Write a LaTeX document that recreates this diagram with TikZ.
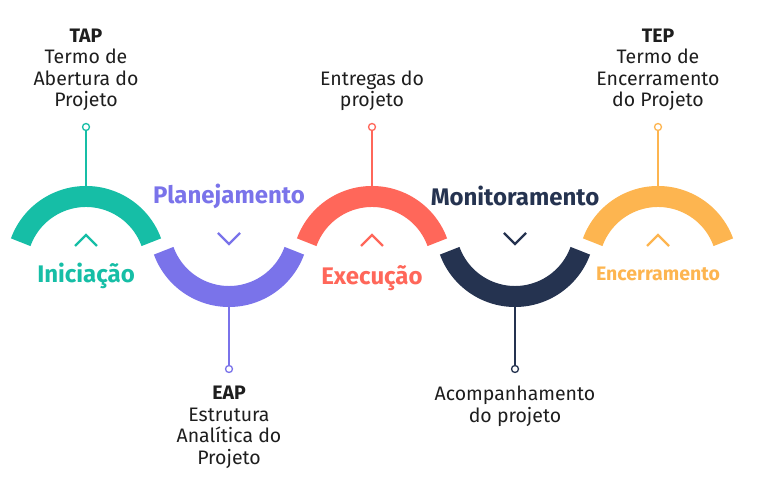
\documentclass[tikz,border=0pt]{standalone}
\usepackage{fontspec}
\setmainfont{Fira Sans}
\definecolor{cini}{HTML}{16BEA6}
\definecolor{cpla}{HTML}{7A73EA}
\definecolor{cexe}{HTML}{FF675A}
\definecolor{cmon}{HTML}{253350}
\definecolor{cenc}{HTML}{FDB550}
\definecolor{ink}{HTML}{1E1E1E}
\begin{document}
\begin{tikzpicture}[x=1pt, y=1pt,
  band/.style={line width=21pt},
  chev/.style={line width=2.4pt},
  stage/.style={font=\fontsize{24}{26}\selectfont\bfseries, inner sep=0pt},
  note/.style={align=center, font=\fontsize{19.5}{21.5}\selectfont, text=ink, inner sep=0pt},
  pin/.style={circle, draw, fill=white, line width=1.3pt, inner sep=0pt, minimum size=7pt},
  stem/.style={line width=1.6pt}]
\useasboundingbox (0,0) rectangle (779,494);
% arc centres
\coordinate (ini) at (86,228);
\coordinate (pla) at (229,267);
\coordinate (exe) at (372,228);
\coordinate (mon) at (515,267);
\coordinate (enc) at (658,228);
% bands
\draw[band, cini] ([shift={(20:69.5)}]ini) arc (20:160:69.5);
\draw[band, cpla] ([shift={(200:69.5)}]pla) arc (200:340:69.5);
\draw[band, cexe] ([shift={(20:69.5)}]exe) arc (20:160:69.5);
\draw[band, cmon] ([shift={(200:69.5)}]mon) arc (200:340:69.5);
\draw[band, cenc] ([shift={(20:69.5)}]enc) arc (20:160:69.5);
% chevrons
\draw[chev, cini] (75,248) -- (86,259) -- (97,248);
\draw[chev, cpla] (218,261) -- (229,250) -- (240,261);
\draw[chev, cexe] (361,248) -- (372,259) -- (383,248);
\draw[chev, cmon] (504,261) -- (515,250) -- (526,261);
\draw[chev, cenc] (647,248) -- (658,259) -- (669,248);
% stage names
\node[stage, text=cini] (tini) at (86,218) {Iniciação};
\node[stage, text=cpla] (tpla) at (229,298) {Planejamento};
\node[stage, text=cexe] (texe) at (372,216) {Execução};
\node[stage, text=cmon] (tmon) at (515,298) {Monitoramento};
\node[stage, text=cenc, font=\fontsize{19.5}{22}\selectfont\bfseries] (tenc) at (658,220) {Encerramento};
% pins
\coordinate (sini) at (86,308);
\coordinate (spla) at (229,187);
\coordinate (sexe) at (372,308);
\coordinate (smon) at (515,187);
\coordinate (senc) at (658,308);
\node[pin, draw=cini] (pini) at (86,367) {};
\node[pin, draw=cpla] (ppla) at (229,125) {};
\node[pin, draw=cexe] (pexe) at (372,367) {};
\node[pin, draw=cmon] (pmon) at (515,125) {};
\node[pin, draw=cenc] (penc) at (658,367) {};
\draw[stem, cini] (pini) -- (sini);
\draw[stem, cpla] (ppla) -- (spla);
\draw[stem, cexe] (pexe) -- (sexe);
\draw[stem, cmon] (pmon) -- (smon);
\draw[stem, cenc] (penc) -- (senc);
% notes
\node[note, anchor=south] (tap) at (86,383) {\textbf{TAP}\\Termo de\\Abertura do\\Projeto};
\node[note, anchor=south] (ent) at (372,383) {Entregas do\\projeto};
\node[note, anchor=south] (tep) at (658,383) {\textbf{TEP}\\Termo de\\Encerramento\\do Projeto};
\node[note, anchor=north] (eap) at (229,108) {\textbf{EAP}\\Estrutura\\Analítica do\\Projeto};
\node[note, anchor=north] (aco) at (515,108) {Acompanhamento\\do projeto};
\end{tikzpicture}
\end{document}
